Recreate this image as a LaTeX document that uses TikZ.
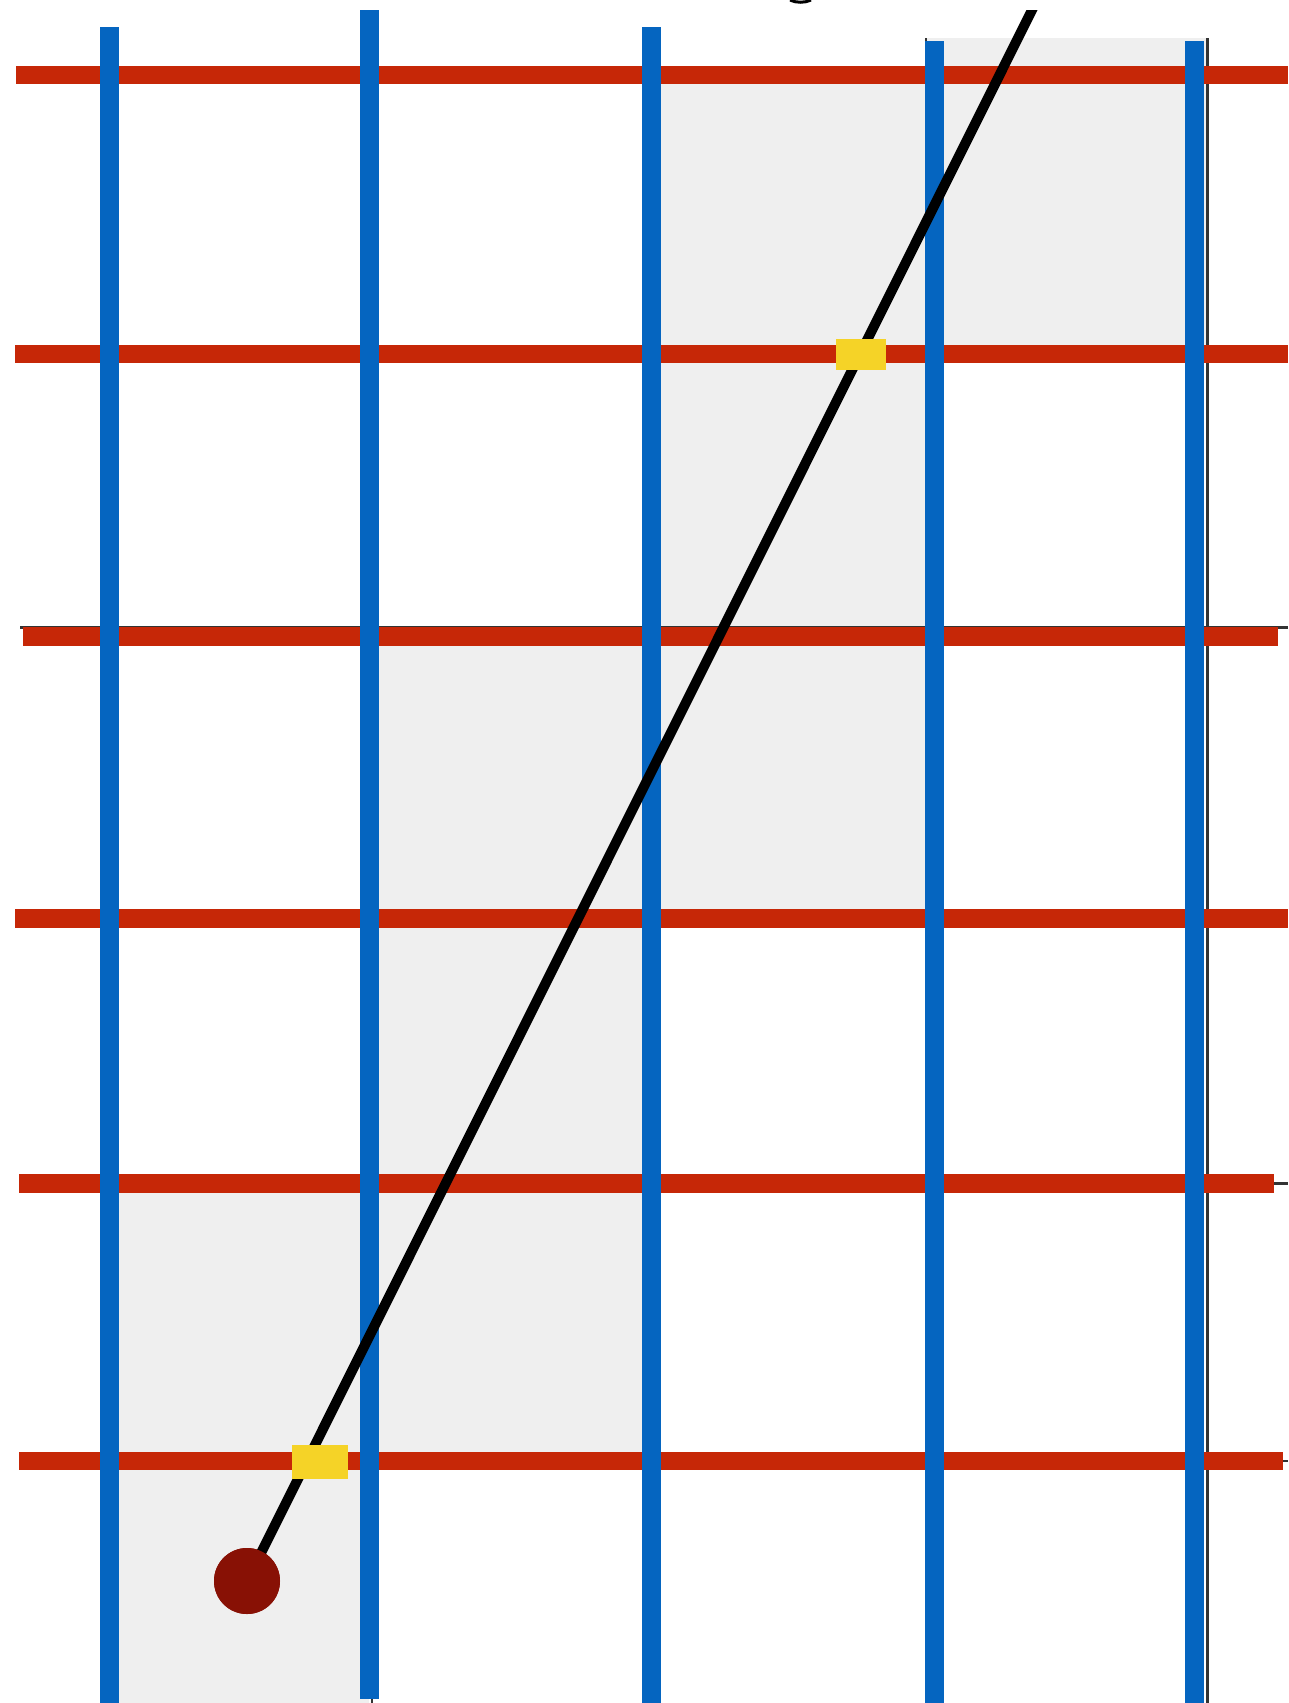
\documentclass[tikz,border=0pt]{standalone}
\definecolor{gridblue}{RGB}{5,101,192}
\definecolor{gridred}{RGB}{198,39,7}
\definecolor{markyellow}{RGB}{245,211,39}
\definecolor{startred}{RGB}{136,17,5}
\definecolor{cellgray}{RGB}{239,239,239}
\definecolor{darkline}{RGB}{51,51,51}
\tikzset{
  vline/.style={draw=gridblue, line width=19pt},
  hline/.style={draw=gridred, line width=18.5pt},
  cell/.style={fill=cellgray},
  faint/.style={draw=darkline, line width=2.5pt},
  ray/.style={draw=black, line width=10pt},
  marker/.style={fill=markyellow, draw=none, inner sep=0pt, rectangle},
  startdot/.style={fill=startred, draw=none, circle, minimum size=66pt, inner sep=0pt}
}
\begin{document}
\begin{tikzpicture}[x=1pt,y=-1pt]
\useasboundingbox (0,0) rectangle (1288,1703);
% traversed cells
\fill[cell] (925,38) rectangle (1208,354);
\fill[cell] (651,75) rectangle (934,919);
\fill[cell] (369,636) rectangle (651,1461);
\fill[cell] (109,1183) rectangle (369,1703);
% faint underlying grid pieces
\draw[faint] (1207.5,38) -- (1207.5,1703);
\draw[faint] (926,38) -- (926,44);
\draw[faint] (20,627.5) -- (1288,627.5);
\draw[faint] (1260,1183.5) -- (1288,1183.5);
\draw[faint] (1270,1461) -- (1288,1461);
\draw[faint] (1270,354) -- (1288,354);
\draw[faint] (372,1690) -- (372,1703);
% red horizontal lines
\draw[hline] (16,75) -- (1288,75);
\draw[hline] (15,354) -- (1288,354);
\draw[hline] (23,636.5) -- (1278,636.5);
\draw[hline] (15,918.5) -- (1288,918.5);
\draw[hline] (19,1183.5) -- (1274,1183.5);
\draw[hline] (19,1461) -- (1283,1461);
% blue vertical lines
\draw[vline] (109,27) -- (109,1703);
\draw[vline] (369,10) -- (369,1699);
\draw[vline] (651,27) -- (651,1703);
\draw[vline] (934,41) -- (934,1703);
\draw[vline] (1194.5,41) -- (1194.5,1703);
% ray
\coordinate (rayend) at (1037,0);
\node[startdot] (start) at (247,1581) {};
\begin{scope}
\clip (0,10) rectangle (1288,1703);
\draw[ray] (start.center) -- (rayend);
\end{scope}
\node[startdot] at (start.center) {};
% crossing markers
\node[marker, minimum width=50pt, minimum height=31pt] (m1) at (861,354) {};
\node[marker, minimum width=55.5pt, minimum height=33.5pt] (m2) at (320,1462) {};
% cut-off glyph fragment at top
\draw[black, line width=3pt] (790,0) .. controls (796,3) and (805,3) .. (811,0);
\end{tikzpicture}
\end{document}
